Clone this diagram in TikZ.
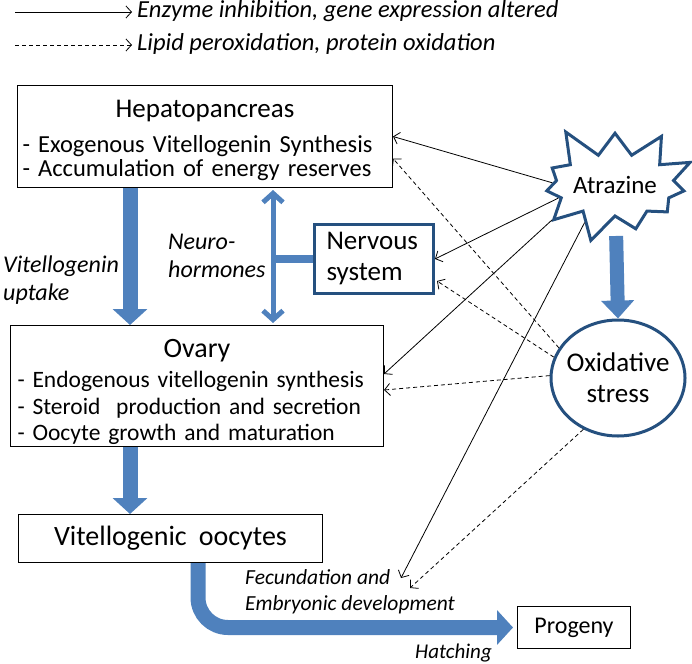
\documentclass[tikz,border=0pt]{standalone}
\usepackage{fontspec}
\setmainfont{Carlito}
\usetikzlibrary{arrows.meta,shapes.symbols,shapes.geometric,positioning}
\definecolor{arrowblue}{HTML}{4F81BD}
\definecolor{lineblue}{HTML}{25507F}

\begin{document}
\begin{tikzpicture}[x=1pt,y=-1pt,
        font=\fontsize{24}{27}\selectfont,
        thin arrow/.style={-{Straight Barb[length=5.5pt,width=12pt]},line width=0.8pt},
        dash arrow/.style={thin arrow,dash pattern=on 4pt off 3pt},
        big arrow/.style={arrowblue,line width=15pt,-{Triangle[length=16pt,width=34pt]}},
        plain box/.style={draw,line width=1pt,inner sep=0pt,anchor=north west},
        label/.style={font=\fontsize{24}{28}\selectfont\itshape,align=left,inner sep=0pt,anchor=north west}]

    \useasboundingbox (0,0) rectangle (692,663);

    % columns for the vertical arrows
    \coordinate (colA) at (130,0);
    \coordinate (colB) at (273,0);
    \coordinate (colC) at (198,0);

    % legend
    \node[label, font=\fontsize{24.5}{28}\selectfont\itshape] (leg1) at (137,0) {Enzyme inhibition, gene expression altered};
    \node[label, font=\fontsize{24.5}{28}\selectfont\itshape] (leg2) at (137,33) {Lipid peroxidation, protein oxidation};
    \coordinate (leg1start) at (15,12);
    \coordinate (leg2start) at (15,45);
    \draw[thin arrow,shorten >=5pt] (leg1start) -- (leg1start -| leg1.west);
    \draw[dash arrow,shorten >=5pt] (leg2start) -- (leg2start -| leg2.west);

    % boxes
    \node[plain box, inner xsep=5pt, text width=365pt, minimum height=102pt, align=left,
        font=\fontsize{24.5}{24}\selectfont] (hepato) at (17,85)
        {\makebox[365pt]{\rule{0pt}{25.5pt}\fontsize{27}{24}\selectfont Hepatopancreas}\\[11.5pt]-\ Exogenous Vitellogenin Synthesis\\-\ Accumulation of energy reserves};
    \node[plain box, inner xsep=7pt, text width=359pt, minimum height=121pt, align=left,
        font=\fontsize{23.5}{26.5}\selectfont] (ovary) at (10,325)
        {\makebox[359pt]{\rule{0pt}{30pt}\fontsize{28}{26.5}\selectfont Ovary}\\[4pt]- Endogenous vitellogenin synthesis\\- Steroid\ \ production and secretion\\- Oocyte growth and maturation};
    \node[plain box, minimum width=304pt, minimum height=48pt, font=\fontsize{28}{30}\selectfont] (oocytes) at (18,514)
        {Vitellogenic\hspace{12pt}oocytes};
    \node[plain box, minimum width=113pt, minimum height=42pt] (progeny) at (517,606) {Progeny};
    \node[draw=lineblue, line width=3pt, anchor=north west, inner xsep=12pt, text width=95pt, minimum height=69pt,
        align=left, font=\fontsize{27}{31}\selectfont] (nervous) at (313,223) {Nervous\\system};

    \node[starburst, draw=lineblue, line width=3pt, fill=white, minimum width=140pt, minimum height=130pt,
        starburst points=11, starburst point height=34pt, random starburst=5, inner sep=0pt,
        font=\fontsize{25}{28}\selectfont] (atrazine) at (615,185) {Atrazine};
    \node[ellipse, draw=lineblue, line width=3pt, minimum width=134pt, minimum height=116pt, align=center,
        inner xsep=-14pt, inner ysep=0pt, font=\fontsize{27}{31}\selectfont] (oxid) at (618,378) {Oxidative\\stress};

    % labels
    \node[label] (uptake) at (3,256) {Vitellogenin\\uptake};
    \node[label] (neuro) at (168,234) {Neuro-\\hormones};
    \node[label, font=\fontsize{21.5}{26}\selectfont\itshape] (fecund) at (245,569) {Fecundation and\\Embryonic development};
    \node[label, font=\fontsize{21}{26}\selectfont\itshape] (hatch) at (415,644) {Hatching};

    % big blue arrows
    \draw[big arrow] (hepato.south -| colA) -- (ovary.north -| colA);
    \draw[big arrow] (ovary.south -| colA) -- (oocytes.north -| colA);
    \draw[big arrow, rounded corners=30pt, shorten >=4pt] (oocytes.south -| colC) |- (progeny.west);
    \draw[big arrow, line width=14pt, -{Triangle[length=18pt,width=32pt]}, shorten <=51pt] (atrazine.center) -- (oxid.north);

    % neurohormones
    \draw[arrowblue, line width=5pt, {Straight Barb[length=9pt,width=20pt]}-{Straight Barb[length=9pt,width=20pt]},
        shorten <=2pt, shorten >=2pt] (hepato.south -| colB) -- (ovary.north -| colB);
    \draw[arrowblue, line width=8pt] (nervous.west) -- (nervous.west -| colB);

    % atrazine effects
    \path[thin arrow]
    (atrazine.178) edge (hepato.east)
    (atrazine.193) edge (nervous.east)
    (atrazine.209) edge ([yshift=12pt]ovary.east)
    (atrazine.231) edge ([xshift=156pt,yshift=-9pt]fecund.north west);

    % oxidative stress effects
    \path[dash arrow]
    (oxid.153) edge ([yshift=-22pt]hepato.east)
    (oxid.162) edge ([xshift=2pt,yshift=-22pt]nervous.east)
    (oxid.178) edge ([yshift=-4pt]ovary.east)
    (oxid.236) edge ([xshift=165pt,yshift=-19pt]fecund.north west);

\end{tikzpicture}
\end{document}
